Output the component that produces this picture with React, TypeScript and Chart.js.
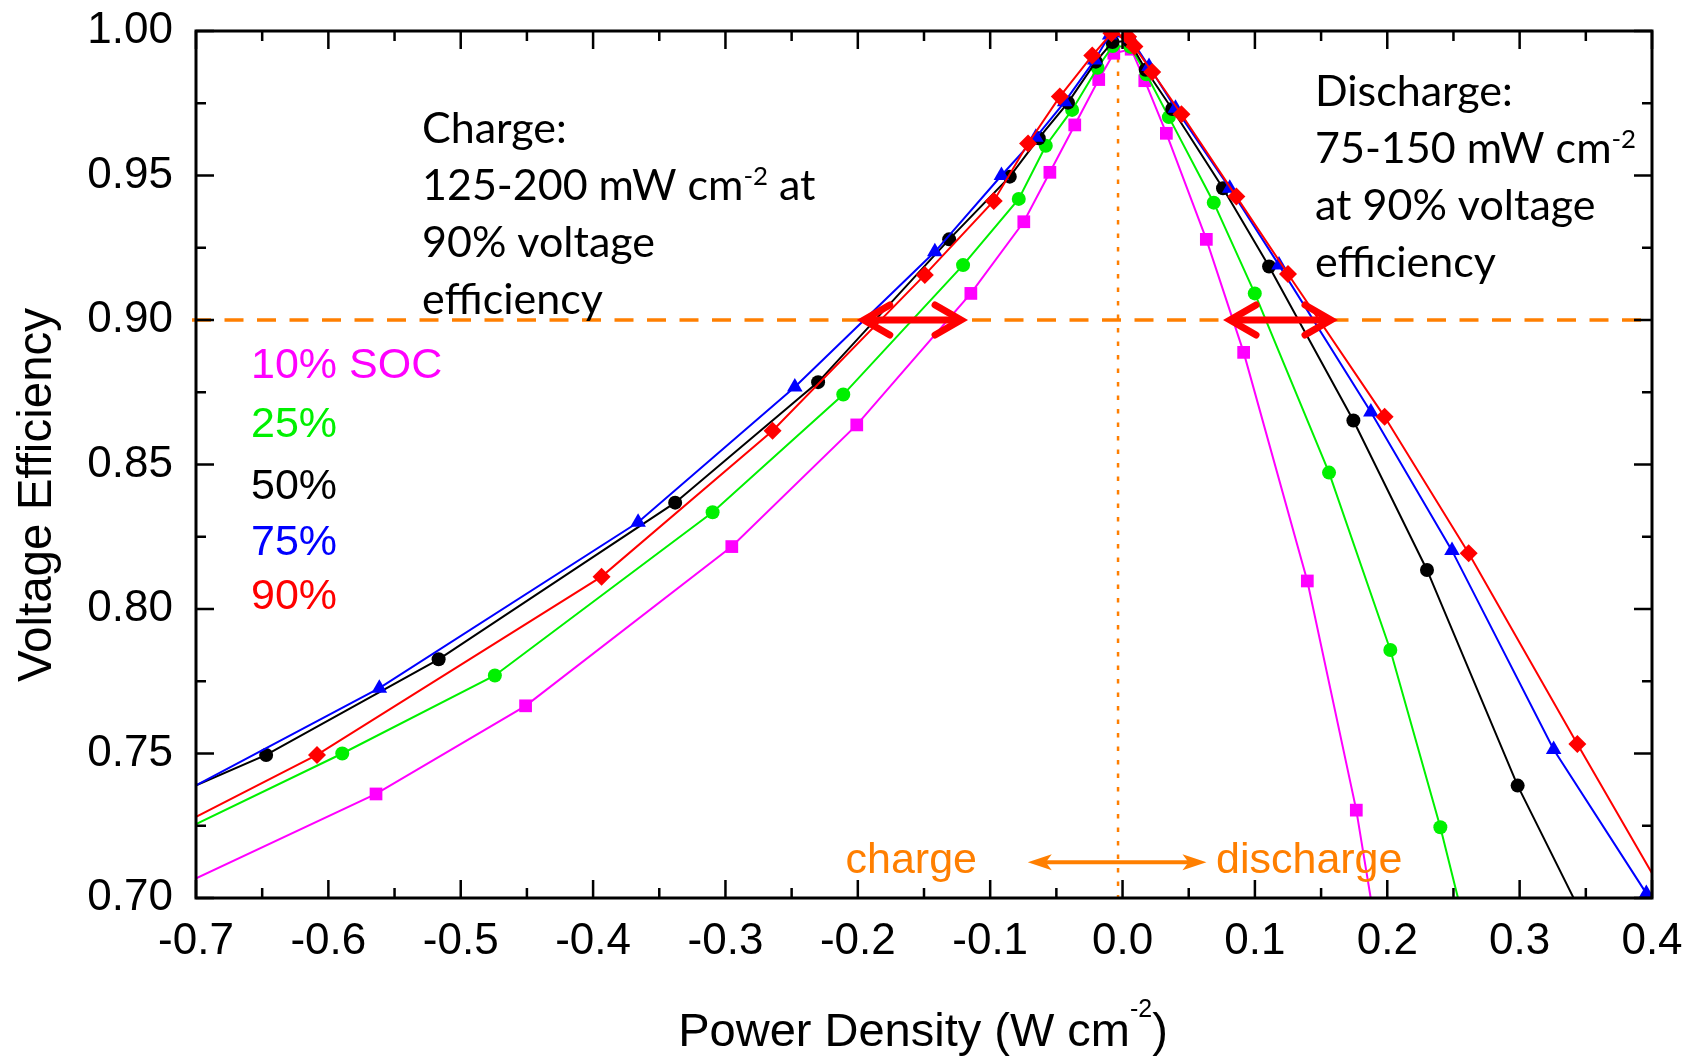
import React, { useEffect, useRef } from "react";
import { Chart, registerables } from "chart.js";

Chart.register(...registerables);

type Pt = [number, number];

// ---- axis ticks ----
const xTickValues = [-0.7, -0.6, -0.5, -0.4, -0.3, -0.2, -0.1, 0.0, 0.1, 0.2, 0.3, 0.4];
const xMinorTickValues = [-0.65, -0.55, -0.45, -0.35, -0.25, -0.15, -0.05, 0.05, 0.15, 0.25, 0.35];
const yTickValues = [0.7, 0.75, 0.8, 0.85, 0.9, 0.95, 1.0];
const yMinorTickValues = [0.725, 0.775, 0.825, 0.875, 0.925, 0.975];

// ---- series ----
const seriesNames = ["10% SOC", "25%", "50%", "75%", "90%"];
const seriesColors = ["#FF00FF", "#00F000", "#000000", "#0000FF", "#FF0000"];
const seriesMarkers = ["rect", "circle", "circle", "triangle", "rectRot"];
const seriesMarkerRadius = [9, 7, 7, 9, 9];

// [power density (W cm-2), voltage efficiency]
const soc10: Pt[] = [
  [-0.72, 0.7025], [-0.564, 0.736], [-0.451, 0.7665], [-0.2952, 0.8216], [-0.2008, 0.8637],
  [-0.1146, 0.9092], [-0.0746, 0.934], [-0.0549, 0.9511], [-0.0361, 0.9675], [-0.018, 0.9832],
  [-0.0066, 0.9923], [0.0065, 0.9937], [0.0168, 0.9828], [0.0331, 0.9646], [0.0633, 0.9279],
  [0.0915, 0.8888], [0.1396, 0.8097], [0.1766, 0.7304], [0.192, 0.6874],
];
const soc25: Pt[] = [
  [-0.72, 0.7211], [-0.5895, 0.75], [-0.4742, 0.777], [-0.3097, 0.8335], [-0.211, 0.8742],
  [-0.1205, 0.919], [-0.0784, 0.9419], [-0.058, 0.9603], [-0.0381, 0.9727], [-0.0189, 0.9873],
  [-0.0074, 0.9948], [0.006, 0.9945], [0.018, 0.985], [0.035, 0.9702], [0.0689, 0.9406],
  [0.0999, 0.9092], [0.156, 0.8472], [0.2023, 0.7858], [0.2401, 0.7245], [0.26, 0.6879],
];
const soc50: Pt[] = [
  [-0.72, 0.735], [-0.647, 0.7495], [-0.5167, 0.7826], [-0.338, 0.8368], [-0.23, 0.8785],
  [-0.131, 0.9279], [-0.0852, 0.9496], [-0.0633, 0.9629], [-0.0412, 0.9752], [-0.0202, 0.9894],
  [-0.0076, 0.9962], [0.005, 0.9965], [0.0175, 0.9866], [0.0375, 0.973], [0.0759, 0.9456],
  [0.1107, 0.9185], [0.1744, 0.8652], [0.23, 0.8135], [0.2985, 0.7389], [0.35, 0.6915],
];
const soc75: Pt[] = [
  [-0.72, 0.7341], [-0.5615, 0.7726], [-0.366, 0.83], [-0.2476, 0.8768], [-0.1418, 0.9236],
  [-0.0915, 0.95], [-0.0655, 0.9632], [-0.0437, 0.9755], [-0.021, 0.99], [-0.0097, 0.9986],
  [0.006, 0.9975], [0.02, 0.9877], [0.04, 0.9733], [0.081, 0.9456], [0.1182, 0.919],
  [0.1876, 0.8682], [0.2489, 0.8202], [0.3257, 0.7514], [0.3957, 0.7016],
];
const soc90: Pt[] = [
  [-0.72, 0.7234], [-0.6086, 0.7495], [-0.3936, 0.8112], [-0.2644, 0.8617], [-0.1494, 0.9156],
  [-0.0973, 0.9412], [-0.0714, 0.9611], [-0.0474, 0.9773], [-0.0229, 0.9915], [-0.0084, 0.9992],
  [0.0042, 0.998], [0.009, 0.9946], [0.0224, 0.9858], [0.0445, 0.9712], [0.086, 0.9427],
  [0.125, 0.9159], [0.198, 0.8665], [0.2615, 0.8193], [0.3436, 0.7533], [0.41, 0.7006],
];
const seriesData = [soc10, soc25, soc50, soc75, soc90];

// ---- annotations (data units) ----
const efficiencyTarget = 0.9;
const restLineX = -0.0034;
const chargeRange = [-0.197, -0.1205];
const dischargeRange = [0.0797, 0.159];
const directionArrowRange = [-0.0716, 0.0634];
const directionArrowY = 0.7124;

const chargeNote = ["Charge:", "125-200 mW cm|-2| at", "90% voltage", "efficiency"];
const dischargeNote = ["Discharge:", "75-150 mW cm|-2|", "at 90% voltage", "efficiency"];
const xTitle = "Power Density (W cm|-2|)";
const yTitle = "Voltage Efficiency";

const ORANGE = "#FF7F00";
const ARIAL = "'Liberation Sans', Arial, sans-serif";
const HUMANIST = "Lato, 'Open Sans', sans-serif";

function fmt(v: number, d: number) {
  if (Math.abs(v) < 1e-9) v = 0;
  return v.toFixed(d);
}

function drawRich(
  ctx: CanvasRenderingContext2D,
  text: string,
  x: number,
  y: number,
  size: number,
  family: string,
  align: "left" | "center",
  supScale: number,
  supRise: number
) {
  const parts = text.split("|").map((t, i) => ({ t, sup: i % 2 === 1 }));
  const supSize = size * supScale;
  let total = 0;
  const widths = parts.map((p) => {
    ctx.font = `${p.sup ? supSize : size}px ${family}`;
    const w = ctx.measureText(p.t).width;
    total += w;
    return w;
  });
  let cx = align === "center" ? x - total / 2 : x;
  ctx.textAlign = "left";
  ctx.textBaseline = "alphabetic";
  parts.forEach((p, i) => {
    ctx.font = `${p.sup ? supSize : size}px ${family}`;
    ctx.fillText(p.t, cx, p.sup ? y - size * supRise : y);
    cx += widths[i];
  });
}

const annotationPlugin = {
  id: "annotations",
  beforeDatasetsDraw(chart: any) {
    const { ctx, chartArea: a, scales } = chart;
    const xs = scales.x;
    const ys = scales.y;
    ctx.save();
    ctx.strokeStyle = ORANGE;
    ctx.lineWidth = 3.5;
    ctx.setLineDash([19, 13.5]);
    const yy = ys.getPixelForValue(efficiencyTarget);
    ctx.beginPath();
    ctx.moveTo(a.left - 4, yy);
    ctx.lineTo(a.right, yy);
    ctx.stroke();

    ctx.lineWidth = 2.5;
    ctx.setLineDash([4.5, 9]);
    const xx = xs.getPixelForValue(restLineX);
    ctx.beginPath();
    ctx.moveTo(xx, a.top);
    ctx.lineTo(xx, a.bottom);
    ctx.stroke();
    ctx.restore();
  },
  afterDraw(chart: any) {
    const { ctx, chartArea: a, scales } = chart;
    const xs = scales.x;
    const ys = scales.y;
    ctx.save();
    ctx.setLineDash([]);

    // frame
    ctx.strokeStyle = "#000";
    ctx.lineWidth = 3;
    ctx.strokeRect(a.left, a.top, a.right - a.left, a.bottom - a.top);

    // inward ticks on all four sides
    ctx.lineWidth = 2.5;
    const xTicks = (vals: number[], len: number) => {
      vals.forEach((v) => {
        const px = xs.getPixelForValue(v);
        ctx.beginPath();
        ctx.moveTo(px, a.bottom);
        ctx.lineTo(px, a.bottom - len);
        ctx.moveTo(px, a.top);
        ctx.lineTo(px, a.top + len);
        ctx.stroke();
      });
    };
    const yTicks = (vals: number[], len: number) => {
      vals.forEach((v) => {
        const py = ys.getPixelForValue(v);
        ctx.beginPath();
        ctx.moveTo(a.left, py);
        ctx.lineTo(a.left + len, py);
        ctx.moveTo(a.right, py);
        ctx.lineTo(a.right - len, py);
        ctx.stroke();
      });
    };
    xTicks(xTickValues, 18);
    xTicks(xMinorTickValues, 10);
    yTicks(yTickValues, 18);
    yTicks(yMinorTickValues, 10);

    // red double arrows
    const ty = ys.getPixelForValue(efficiencyTarget);
    const redArrow = (r: number[]) => {
      const x1 = xs.getPixelForValue(r[0]);
      const x2 = xs.getPixelForValue(r[1]);
      ctx.strokeStyle = "#FF0000";
      ctx.lineWidth = 7;
      ctx.lineCap = "round";
      ctx.lineJoin = "miter";
      ctx.beginPath();
      ctx.moveTo(x1 + 4, ty);
      ctx.lineTo(x2 - 4, ty);
      ctx.stroke();
      ctx.beginPath();
      ctx.moveTo(x1 + 28, ty - 15);
      ctx.lineTo(x1 + 2, ty);
      ctx.lineTo(x1 + 28, ty + 15);
      ctx.stroke();
      ctx.beginPath();
      ctx.moveTo(x2 - 28, ty - 15);
      ctx.lineTo(x2 - 2, ty);
      ctx.lineTo(x2 - 28, ty + 15);
      ctx.stroke();
    };
    redArrow(chargeRange);
    redArrow(dischargeRange);

    // orange direction arrow
    const ox1 = xs.getPixelForValue(directionArrowRange[0]);
    const ox2 = xs.getPixelForValue(directionArrowRange[1]);
    const oy = ys.getPixelForValue(directionArrowY);
    ctx.strokeStyle = ORANGE;
    ctx.fillStyle = ORANGE;
    ctx.lineWidth = 4;
    ctx.lineCap = "butt";
    ctx.beginPath();
    ctx.moveTo(ox1 + 12, oy);
    ctx.lineTo(ox2 - 12, oy);
    ctx.stroke();
    const head = (tipX: number, dir: number) => {
      ctx.beginPath();
      ctx.moveTo(tipX, oy);
      ctx.lineTo(tipX + dir * 24, oy - 8);
      ctx.lineTo(tipX + dir * 18, oy);
      ctx.lineTo(tipX + dir * 24, oy + 8);
      ctx.closePath();
      ctx.fill();
    };
    head(ox1, 1);
    head(ox2, -1);

    // orange labels
    ctx.fillStyle = ORANGE;
    ctx.font = `43px ${ARIAL}`;
    ctx.textBaseline = "alphabetic";
    ctx.textAlign = "right";
    ctx.fillText("charge", 977, 873);
    ctx.textAlign = "left";
    ctx.fillText("discharge", 1216, 873);

    // SOC legend
    const legendY = [378, 437, 499, 555, 609];
    ctx.font = `43px ${ARIAL}`;
    seriesNames.forEach((n, i) => {
      ctx.fillStyle = seriesColors[i];
      ctx.fillText(n, 251, legendY[i]);
    });

    // notes
    ctx.fillStyle = "#000";
    chargeNote.forEach((line, i) => {
      drawRich(ctx, line, 422, 143 + i * 57, 43, HUMANIST, "left", 0.6, 0.36);
    });
    dischargeNote.forEach((line, i) => {
      drawRich(ctx, line, 1315, 106 + i * 57, 43, HUMANIST, "left", 0.6, 0.36);
    });

    // axis titles
    drawRich(ctx, xTitle, 923, 1046, 47, ARIAL, "center", 0.53, 0.62);
    ctx.save();
    ctx.translate(51, 495);
    ctx.rotate(-Math.PI / 2);
    ctx.font = `47.5px ${ARIAL}`;
    ctx.textAlign = "center";
    ctx.textBaseline = "alphabetic";
    ctx.fillText(yTitle, 0, 0);
    ctx.restore();

    ctx.restore();
  },
};

export default function App() {
  const ref = useRef<HTMLCanvasElement>(null);
  useEffect(() => {
    const canvas = ref.current;
    if (!canvas) return;
    const chart = new Chart(canvas, {
      type: "line",
      data: {
        datasets: seriesData.map((d, i) => ({
          label: seriesNames[i],
          data: d.map(([x, y]) => ({ x, y })),
          borderColor: seriesColors[i],
          backgroundColor: seriesColors[i],
          pointBackgroundColor: seriesColors[i],
          pointBorderColor: seriesColors[i],
          pointBorderWidth: 0,
          borderWidth: 2,
          pointStyle: seriesMarkers[i] as any,
          pointRadius: seriesMarkerRadius[i],
          pointHoverRadius: seriesMarkerRadius[i],
          tension: 0,
          fill: false,
          clip: 0,
          order: seriesData.length - 1 - i,
        })),
      },
      options: {
        responsive: false,
        animation: false,
        events: [],
        layout: { padding: { left: 0, right: 44, top: 31, bottom: 0 } },
        plugins: { legend: { display: false }, tooltip: { enabled: false } },
        scales: {
          x: {
            type: "linear",
            min: -0.7,
            max: 0.4,
            afterBuildTicks: (s: any) => {
              s.ticks = xTickValues.map((v) => ({ value: v }));
            },
            afterFit: (s: any) => {
              s.height = 158;
              s.paddingLeft = 0;
              s.paddingRight = 0;
            },
            grid: { display: false, drawTicks: false },
            border: { display: false },
            ticks: {
              autoSkip: false,
              maxRotation: 0,
              padding: 17,
              color: "#000",
              font: { family: ARIAL, size: 44 },
              callback: (v: any) => fmt(Number(v), 1),
            },
          },
          y: {
            type: "linear",
            min: 0.7,
            max: 1.0,
            afterBuildTicks: (s: any) => {
              s.ticks = yTickValues.map((v) => ({ value: v }));
            },
            afterFit: (s: any) => {
              s.width = 196;
              s.paddingTop = 0;
              s.paddingBottom = 0;
            },
            grid: { display: false, drawTicks: false },
            border: { display: false },
            ticks: {
              autoSkip: false,
              padding: 23,
              color: "#000",
              font: { family: ARIAL, size: 44 },
              callback: (v: any) => fmt(Number(v), 2),
            },
          },
        },
      },
      plugins: [annotationPlugin],
    } as any);
    return () => chart.destroy();
  }, []);
  return (
    <div style={{ position: "absolute", left: 0, top: 0, width: 1696, height: 1056, background: "#fff" }}>
      <canvas ref={ref} width={1696} height={1056} style={{ display: "block", width: 1696, height: 1056 }} />
    </div>
  );
}
